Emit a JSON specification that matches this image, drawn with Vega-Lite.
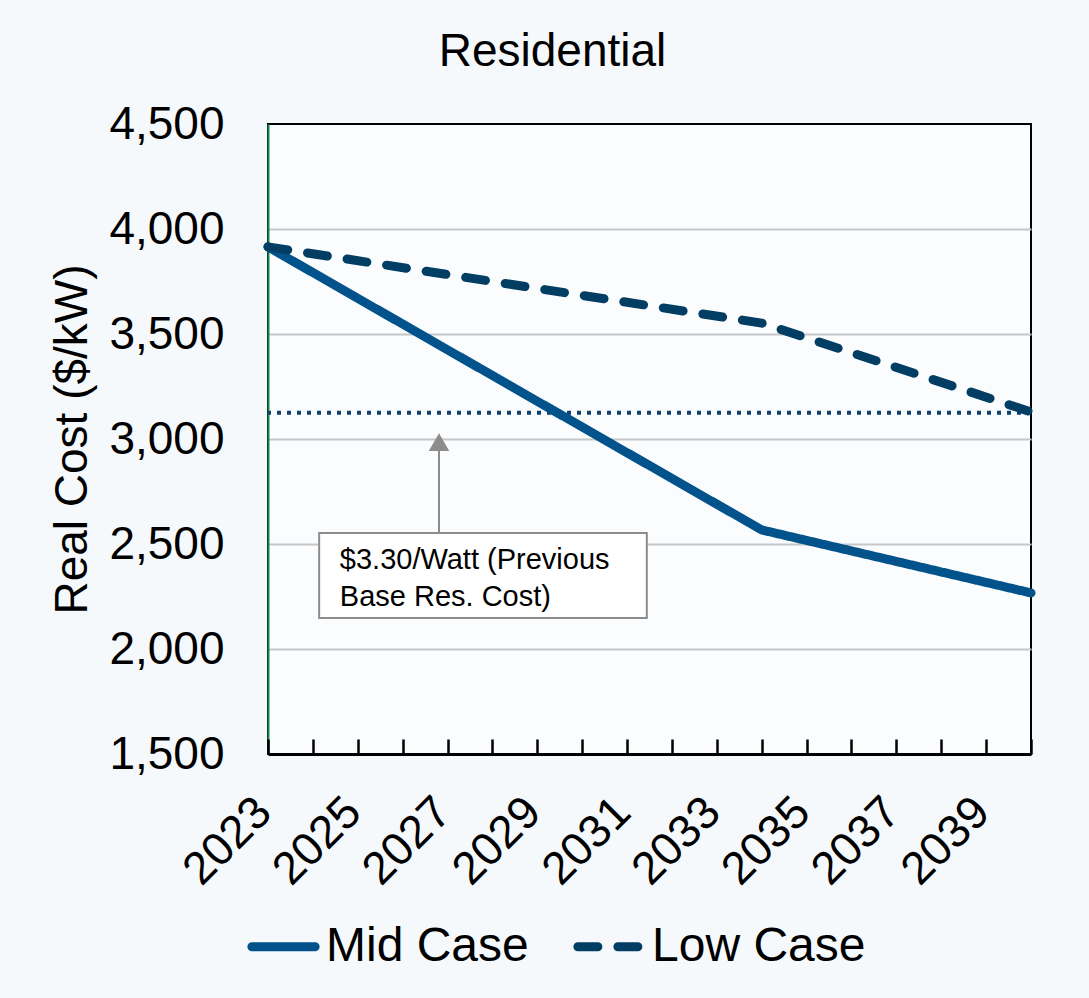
{
  "$schema": "https://vega.github.io/schema/vega-lite/v6.json",
  "width": 763,
  "height": 630,
  "autosize": "none",
  "padding": {"left": 268, "top": 124, "right": 58, "bottom": 244},
  "background": "#f6f9fc",
  "title": {
    "text": "Residential",
    "font": "Liberation Sans",
    "fontSize": 46,
    "fontWeight": "normal",
    "color": "black",
    "anchor": "middle",
    "frame": "group",
    "baseline": "alphabetic",
    "dx": -97,
    "offset": -11
  },
  "config": {
    "font": "Liberation Sans",
    "view": {"stroke": "black", "strokeWidth": 2, "fill": "#fbfcfe"}
  },
  "datasets": {
    "cost": [
      {"year": 2023, "cost": 3915, "case": "Mid Case"},
      {"year": 2034, "cost": 2567, "case": "Mid Case"},
      {"year": 2040, "cost": 2267, "case": "Mid Case"},
      {"year": 2023, "cost": 3915, "case": "Low Case"},
      {"year": 2034, "cost": 3552, "case": "Low Case"},
      {"year": 2040, "cost": 3129, "case": "Low Case"}
    ],
    "note": [{"label": "$3.30/Watt (Previous Base Res. Cost)"}]
  },
  "layer": [
    {
      "data": {"values": [{"ref": 3125}]},
      "mark": {"type": "rule", "strokeWidth": 4, "strokeDash": [4, 6], "color": "#0d4170"},
      "encoding": {
        "y": {"field": "ref", "type": "quantitative", "scale": {"domain": [1500, 4500], "nice": false, "zero": false}}
      }
    },
    {
      "data": {"name": "cost"},
      "mark": {"type": "line", "strokeWidth": 9, "strokeCap": "round", "strokeJoin": "round"},
      "encoding": {
        "x": {
          "field": "year",
          "type": "quantitative",
          "scale": {"domain": [2023, 2040], "nice": false, "zero": false},
          "axis": {
            "title": null,
            "values": [2023, 2024, 2025, 2026, 2027, 2028, 2029, 2030, 2031, 2032, 2033, 2034, 2035, 2036, 2037, 2038, 2039, 2040],
            "labelExpr": "datum.value % 2 == 1 ? datum.label : ''",
            "format": "d",
            "labelOverlap": false,
            "labelAngle": -45,
            "labelAlign": "right",
            "labelBaseline": "top",
            "labelFontSize": 46,
            "labelColor": "black",
            "labelPadding": 50,
            "labelOffset": -20,
            "labelFlush": false,
            "grid": false,
            "domainColor": "black",
            "domainWidth": 3,
            "tickColor": "black",
            "tickWidth": 2.5,
            "tickSize": -15,
            "zindex": 1
          }
        },
        "y": {
          "field": "cost",
          "type": "quantitative",
          "scale": {"domain": [1500, 4500], "nice": false, "zero": false},
          "axis": {
            "title": "Real Cost ($/kW)",
            "titleFontSize": 46,
            "titleFontWeight": "normal",
            "titleColor": "black",
            "titlePadding": 12,
            "values": [1500, 2000, 2500, 3000, 3500, 4000, 4500],
            "format": ",.0f",
            "labelFontSize": 46,
            "labelColor": "black",
            "labelPadding": 44,
            "ticks": false,
            "domainColor": "#17874a",
            "domainWidth": 2,
            "grid": true,
            "gridColor": "#c6c6c6",
            "gridWidth": 2,
            "gridOpacity": {"condition": {"test": "datum.value === 1500 || datum.value === 4500", "value": 0}, "value": 1}
          }
        },
        "color": {
          "field": "case",
          "type": "nominal",
          "scale": {"domain": ["Mid Case", "Low Case"], "range": ["#02528b", "#023d63"]},
          "legend": {
            "title": null,
            "orient": "none",
            "direction": "horizontal",
            "legendX": -21,
            "legendY": 786,
            "symbolType": "stroke",
            "symbolSize": 4000,
            "symbolStrokeWidth": 9,
            "labelFontSize": 48,
            "labelColor": "black",
            "labelOffset": 6,
            "columnPadding": 30,
            "labelLimit": 400,
            "padding": 0,
            "encode": {"symbols": {"update": {"strokeCap": {"value": "round"}}}}
          }
        },
        "strokeDash": {
          "field": "case",
          "type": "nominal",
          "scale": {"domain": ["Mid Case", "Low Case"], "range": [[1, 0], [20, 20]]},
          "legend": null
        }
      }
    },
    {
      "data": {"name": "note"},
      "mark": {"type": "rule", "color": "#8c8c8c", "strokeWidth": 2},
      "encoding": {
        "x": {"datum": 2026.81, "type": "quantitative"},
        "y": {"datum": 2552, "type": "quantitative"},
        "y2": {"datum": 2950}
      }
    },
    {
      "data": {"name": "note"},
      "mark": {"type": "point", "shape": "triangle-up", "filled": true, "color": "#8c8c8c", "opacity": 1, "size": 420},
      "encoding": {
        "x": {"datum": 2026.81, "type": "quantitative"},
        "y": {"datum": 2985, "type": "quantitative"}
      }
    },
    {
      "data": {"name": "note"},
      "mark": {"type": "rect", "fill": "white", "stroke": "#8c8c8c", "strokeWidth": 2},
      "encoding": {
        "x": {"datum": 2024.14, "type": "quantitative"},
        "x2": {"datum": 2031.44},
        "y": {"datum": 2552, "type": "quantitative"},
        "y2": {"datum": 2148}
      }
    },
    {
      "data": {"name": "note"},
      "mark": {
        "type": "text",
        "text": ["$3.30/Watt (Previous", "Base Res. Cost)"],
        "align": "left",
        "baseline": "middle",
        "fontSize": 29,
        "lineHeight": 37,
        "color": "black"
      },
      "encoding": {
        "x": {"datum": 2024.6, "type": "quantitative"},
        "y": {"datum": 2424, "type": "quantitative"}
      }
    }
  ]
}
